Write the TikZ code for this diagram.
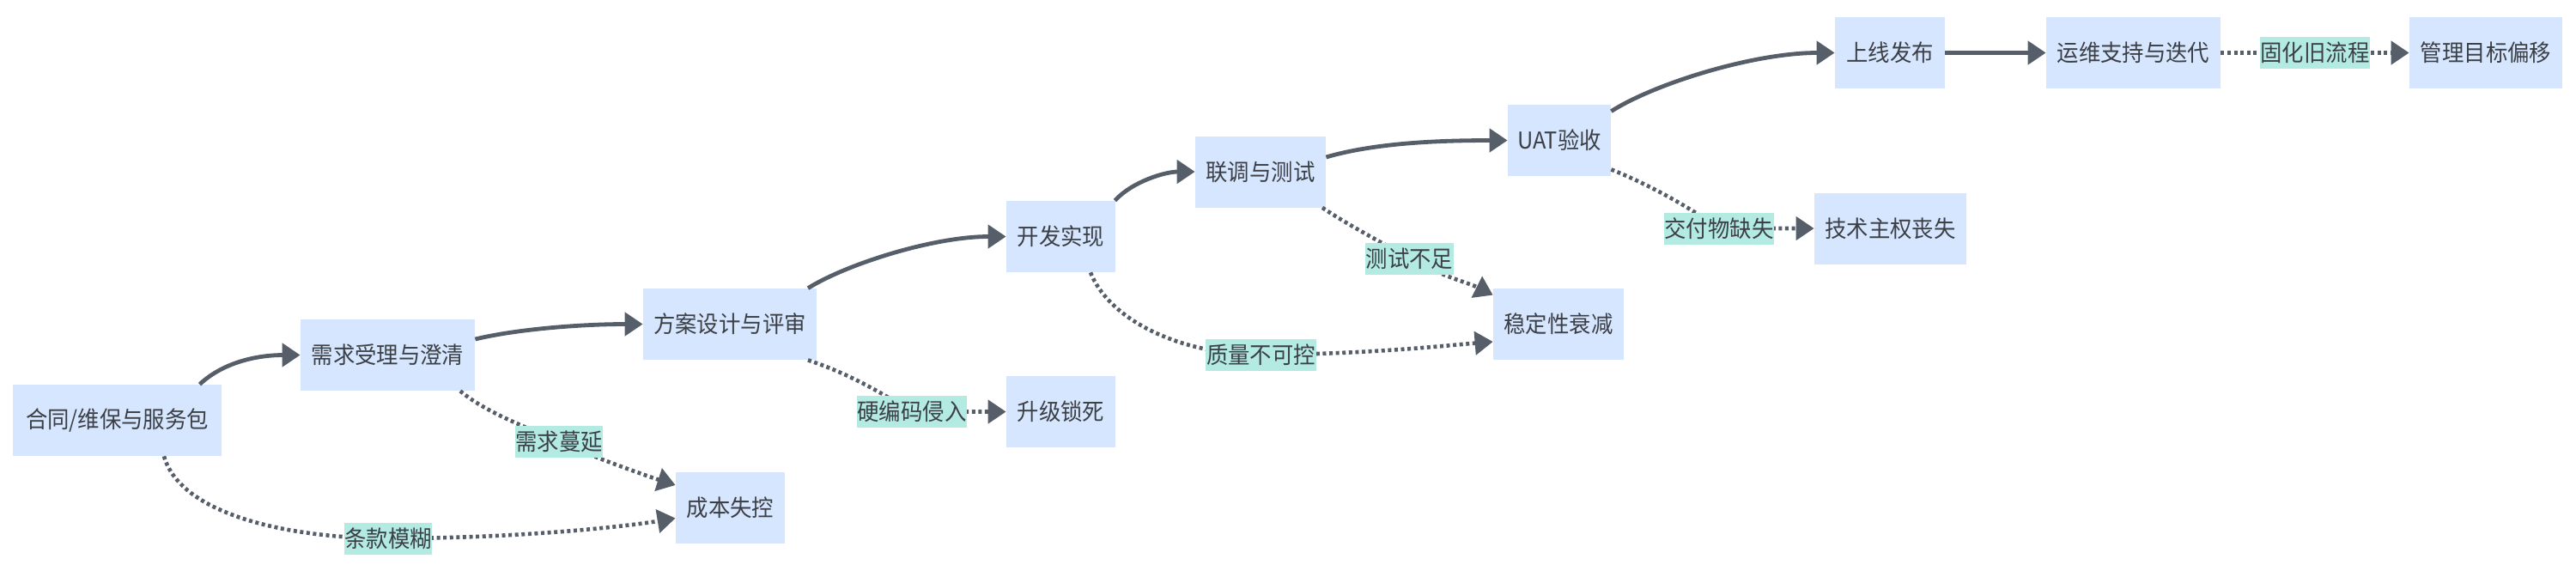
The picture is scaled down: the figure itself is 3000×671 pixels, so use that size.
\documentclass[tikz,border=0pt]{standalone}
\usepackage{fontspec}
\setmainfont[FakeStretch=0.94]{Noto Sans CJK SC}
\usetikzlibrary{calc,arrows.meta}
\definecolor{boxfill}{HTML}{D6E6FE}
\definecolor{lblfill}{HTML}{B3EBE3}
\definecolor{edgecol}{HTML}{555E69}
\definecolor{txtcol}{HTML}{3C4046}
\tikzset{
  nodebox/.style={fill=boxfill, draw=none, text=txtcol, minimum height=41.5pt, inner xsep=0pt, inner ysep=0pt,
    font=\fontsize{13.5pt}{15pt}\selectfont},
  edgelbl/.style={fill=lblfill, draw=none, text=txtcol, minimum height=18.5pt, inner xsep=0.3pt, inner ysep=0pt,
    font=\fontsize{13.5pt}{15pt}\selectfont},
  soledge/.style={draw=edgecol, line width=2.4pt, -{Triangle[length=10.5pt,width=13.5pt]}},
  dotedge/.style={draw=edgecol, line width=2.3pt, dash pattern=on 2pt off 1.8pt, -{Triangle[length=10.5pt,width=13.5pt]}},
}
\begin{document}
\begin{tikzpicture}[x=0.5pt,y=-0.5pt]
\fill[white] (0,0) rectangle (3000,671);
\useasboundingbox (0,0) rectangle (3000,671);
% nodes
\node[nodebox, minimum width=121.5pt] (A) at (136.5,489.5) {合同/维保与服务包};
\node[nodebox, minimum width=101.5pt] (B) at (451.5,413.5) {需求受理与澄清};
\node[nodebox, minimum width=101pt]   (C) at (850,377.5) {方案设计与评审};
\node[nodebox, minimum width=63.5pt]  (D) at (1235.5,275.5) {开发实现};
\node[nodebox, minimum width=63.5pt]  (E) at (1235.5,479.5) {升级锁死};
\node[nodebox, minimum width=63.5pt]  (F) at (850.5,591.5) {成本失控};
\node[nodebox, minimum width=76pt]    (G) at (1468,200) {联调与测试};
\node[nodebox, minimum width=76pt]    (H) at (1815,377.5) {稳定性衰减};
\node[nodebox, minimum width=60pt]    (I) at (1816,163.5) {UAT验收};
\node[nodebox, minimum width=88.5pt]  (J) at (2201.5,266) {技术主权丧失};
\node[nodebox, minimum width=64pt]    (K) at (2201,61.5) {上线发布};
\node[nodebox, minimum width=101.5pt] (L) at (2484.5,61.5) {运维支持与迭代};
\node[nodebox, minimum width=89pt]    (M) at (2895,61.5) {管理目标偏移};
% solid connectors
\draw[soledge] ($(A.north)+(96,0)$) .. controls +(30,-28) and +(-45,0) .. (B.west);
\draw[soledge] ($(B.east)+(0,-18.5)$) .. controls +(50,-12) and +(-70,0) .. (C.west);
\draw[soledge] ($(C.north)+(91,0)$) .. controls +(45,-28) and +(-85,0) .. (D.west);
\draw[soledge] ($(D.north east)+(-1,0)$) .. controls +(20,-22) and +(-35,0) .. (G.west);
\draw[soledge] ($(G.east)+(0,-17)$) .. controls +(55,-16) and +(-85,0) .. (I.west);
\draw[soledge] ($(I.north east)+(0,8)$) .. controls +(50,-32) and +(-95,0) .. (K.west);
\draw[soledge] (K) -- (L);
% dotted connectors with labels
\draw[dotedge] ($(B.south)+(84.5,0)$) .. controls +(30,25) and +(-40,-18) .. (651,514.5) node[edgelbl]{需求蔓延}
  .. controls +(45,20) and +(-25,-8) .. ($(F.west)+(0,-26.5)$);
\draw[dotedge] ($(A.south)+(54.5,0)$) .. controls +(20,70) and +(-110,0) .. (452,627) node[edgelbl]{条款模糊}
  .. controls +(150,0) and +(-60,10) .. ($(F.west)+(0,12)$);
\draw[dotedge] ($(C.south)+(91,0)$) .. controls +(45,15) and +(-40,-25) .. (1062,479.5) node[edgelbl]{硬编码侵入}
  -- (E.west);
\draw[dotedge] ($(G.south)+(72,0)$) .. controls +(30,20) and +(-35,-20) .. (1641.5,301) node[edgelbl]{测试不足}
  .. controls +(40,22) and +(-30,-15) .. ($(H.north west)+(0,8)$);
\draw[dotedge] ($(D.south)+(34.5,0)$) .. controls +(22,55) and +(-95,0) .. (1468.5,413) node[edgelbl]{质量不可控}
  .. controls +(120,0) and +(-50,4) .. ($(H.west)+(0,20.5)$);
\draw[dotedge] ($(I.south east)+(0,-8)$) .. controls +(45,18) and +(-35,-25) .. (2002,266) node[edgelbl]{交付物缺失}
  -- (J.west);
\draw[dotedge] (L) -- node[edgelbl]{固化旧流程} (M);
\end{tikzpicture}
\end{document}
